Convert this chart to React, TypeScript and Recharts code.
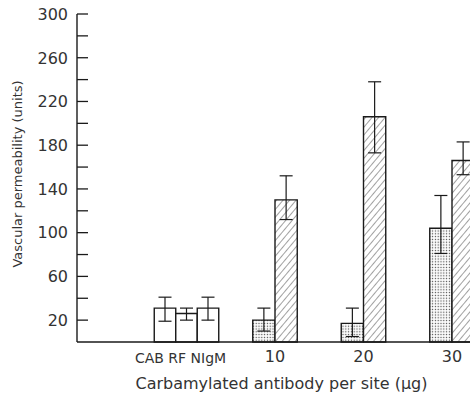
import React from "react";
import { BarChart, Bar, XAxis, YAxis, ErrorBar } from "recharts";

// ---- data ----
const groupLabels = ["CAB RF NIgM", "10", "20", "30"];
const controlNames = ["CAB", "RF", "NIgM"];
const controlValues = [31, 26, 31];
const controlErrors: [number, number][] = [[12, 10], [6, 5], [11, 10]];
const stippledValues = [20, 17, 104];
const stippledErrors: [number, number][] = [[10, 11], [12, 14], [23, 30]];
const hatchedValues = [130, 206, 166];
const hatchedErrors: [number, number][] = [[18, 22], [33, 32], [13, 17]];
const yTicks = [20, 40, 60, 80, 100, 120, 140, 160, 180, 200, 220, 240, 260, 280, 300];
const yLabeledTicks = [20, 60, 100, 140, 180, 220, 260, 300];
const xTitle = "Carbamylated antibody per site (\u03bcg)";
const yTitle = "Vascular permeability (units)";

// table for recharts, built from the arrays above
const data = groupLabels.map((g, i) => {
  const row: Record<string, any> = { group: g };
  if (i === 0) {
    controlNames.forEach((n, j) => {
      row[n] = controlValues[j];
      row[n + "Err"] = controlErrors[j];
    });
  } else {
    row.stippled = stippledValues[i - 1];
    row.stippledErr = stippledErrors[i - 1];
    row.hatched = hatchedValues[i - 1];
    row.hatchedErr = hatchedErrors[i - 1];
  }
  return row;
});

const FONT = "DejaVu Sans";
const INK = "#1a1a1a";
const TEXT = "#333";

const YTick = (props: any) => {
  const { x, y, payload } = props;
  const v = payload.value;
  return (
    <g>
      <line x1={x + 9} x2={x + 20} y1={y} y2={y} stroke={INK} strokeWidth={1.3} />
      {yLabeledTicks.includes(v) && (
        <text x={x} y={y} dy={5.8} textAnchor="end" fontSize={16} fontFamily={FONT} fill={TEXT}>
          {v}
        </text>
      )}
    </g>
  );
};

const XTick = (props: any) => {
  const { x, y, payload, index } = props;
  const ctrl = index === 0;
  return (
    <text
      x={x + (ctrl ? -6 : 0)}
      y={y}
      dy={ctrl ? 13 : 11.7}
      textAnchor="middle"
      fontSize={ctrl ? 14 : 16}
      fontFamily={FONT}
      fill={TEXT}
    >
      {payload.value}
    </text>
  );
};

const YTitle = () => {
  const cx = 17;
  const cy = 174;
  return (
    <text
      x={cx}
      y={cy}
      dy={5}
      transform={`rotate(-90, ${cx}, ${cy})`}
      textAnchor="middle"
      fontSize={13}
      fontFamily={FONT}
      fill={TEXT}
    >
      {yTitle}
    </text>
  );
};

const XTitle = () => (
  <text x={281.5} y={389} textAnchor="middle" fontSize={16} fontFamily={FONT} fill={TEXT}>
    {xTitle}
  </text>
);

const barStroke = { stroke: INK, strokeWidth: 1.4 };
const errStyle = { stroke: INK, strokeWidth: 1.2, width: 6.5 };

export default function App() {
  const pad = { left: 65.25, right: 23.75 };
  return (
    <div
      style={{
        position: "absolute",
        left: 0,
        top: 0,
        width: 470,
        height: 396,
        overflow: "hidden",
        background: "#fff",
      }}
    >
      <BarChart
        width={520}
        height={396}
        data={data}
        margin={{ top: 14, right: 0, left: 0, bottom: 0 }}
        barGap={0}
      >
        <defs>
          <pattern id="stipple" width="2.8" height="2.8" patternUnits="userSpaceOnUse">
            <rect width="2.8" height="2.8" fill="#fff" />
            <rect x="0.8" y="0.8" width="1.2" height="1.2" fill="#444" />
          </pattern>
          <pattern
            id="hatch"
            width="5"
            height="5"
            patternUnits="userSpaceOnUse"
            patternTransform="rotate(40)"
          >
            <rect width="5" height="5" fill="#fff" />
            <line x1="0" y1="0" x2="0" y2="5" stroke="#444" strokeWidth={1} />
          </pattern>
        </defs>
        <XAxis xAxisId="ctrl" dataKey="group" padding={pad} height={0} hide />
        <XAxis
          xAxisId="dose"
          dataKey="group"
          padding={pad}
          height={54}
          tickLine={false}
          tickSize={0}
          tickMargin={8}
          axisLine={{ stroke: INK, strokeWidth: 1.4 }}
          tick={<XTick />}
          interval={0}
          label={<XTitle />}
        />
        <YAxis
          domain={[0, 300]}
          ticks={yTicks}
          interval={0}
          width={77}
          tickLine={false}
          tickSize={0}
          tickMargin={9}
          axisLine={{ stroke: INK, strokeWidth: 1.4 }}
          tick={<YTick />}
          label={<YTitle />}
        />
        {controlNames.map((n) => (
          <Bar
            key={n}
            xAxisId="ctrl"
            dataKey={n}
            barSize={21.5}
            fill="#fff"
            {...barStroke}
            isAnimationActive={false}
          >
            <ErrorBar dataKey={n + "Err"} {...errStyle} />
          </Bar>
        ))}
        <Bar
          xAxisId="dose"
          dataKey="stippled"
          barSize={22.25}
          fill="url(#stipple)"
          {...barStroke}
          isAnimationActive={false}
        >
          <ErrorBar dataKey="stippledErr" {...errStyle} />
        </Bar>
        <Bar
          xAxisId="dose"
          dataKey="hatched"
          barSize={22.25}
          fill="url(#hatch)"
          {...barStroke}
          isAnimationActive={false}
        >
          <ErrorBar dataKey="hatchedErr" {...errStyle} />
        </Bar>
      </BarChart>
    </div>
  );
}
